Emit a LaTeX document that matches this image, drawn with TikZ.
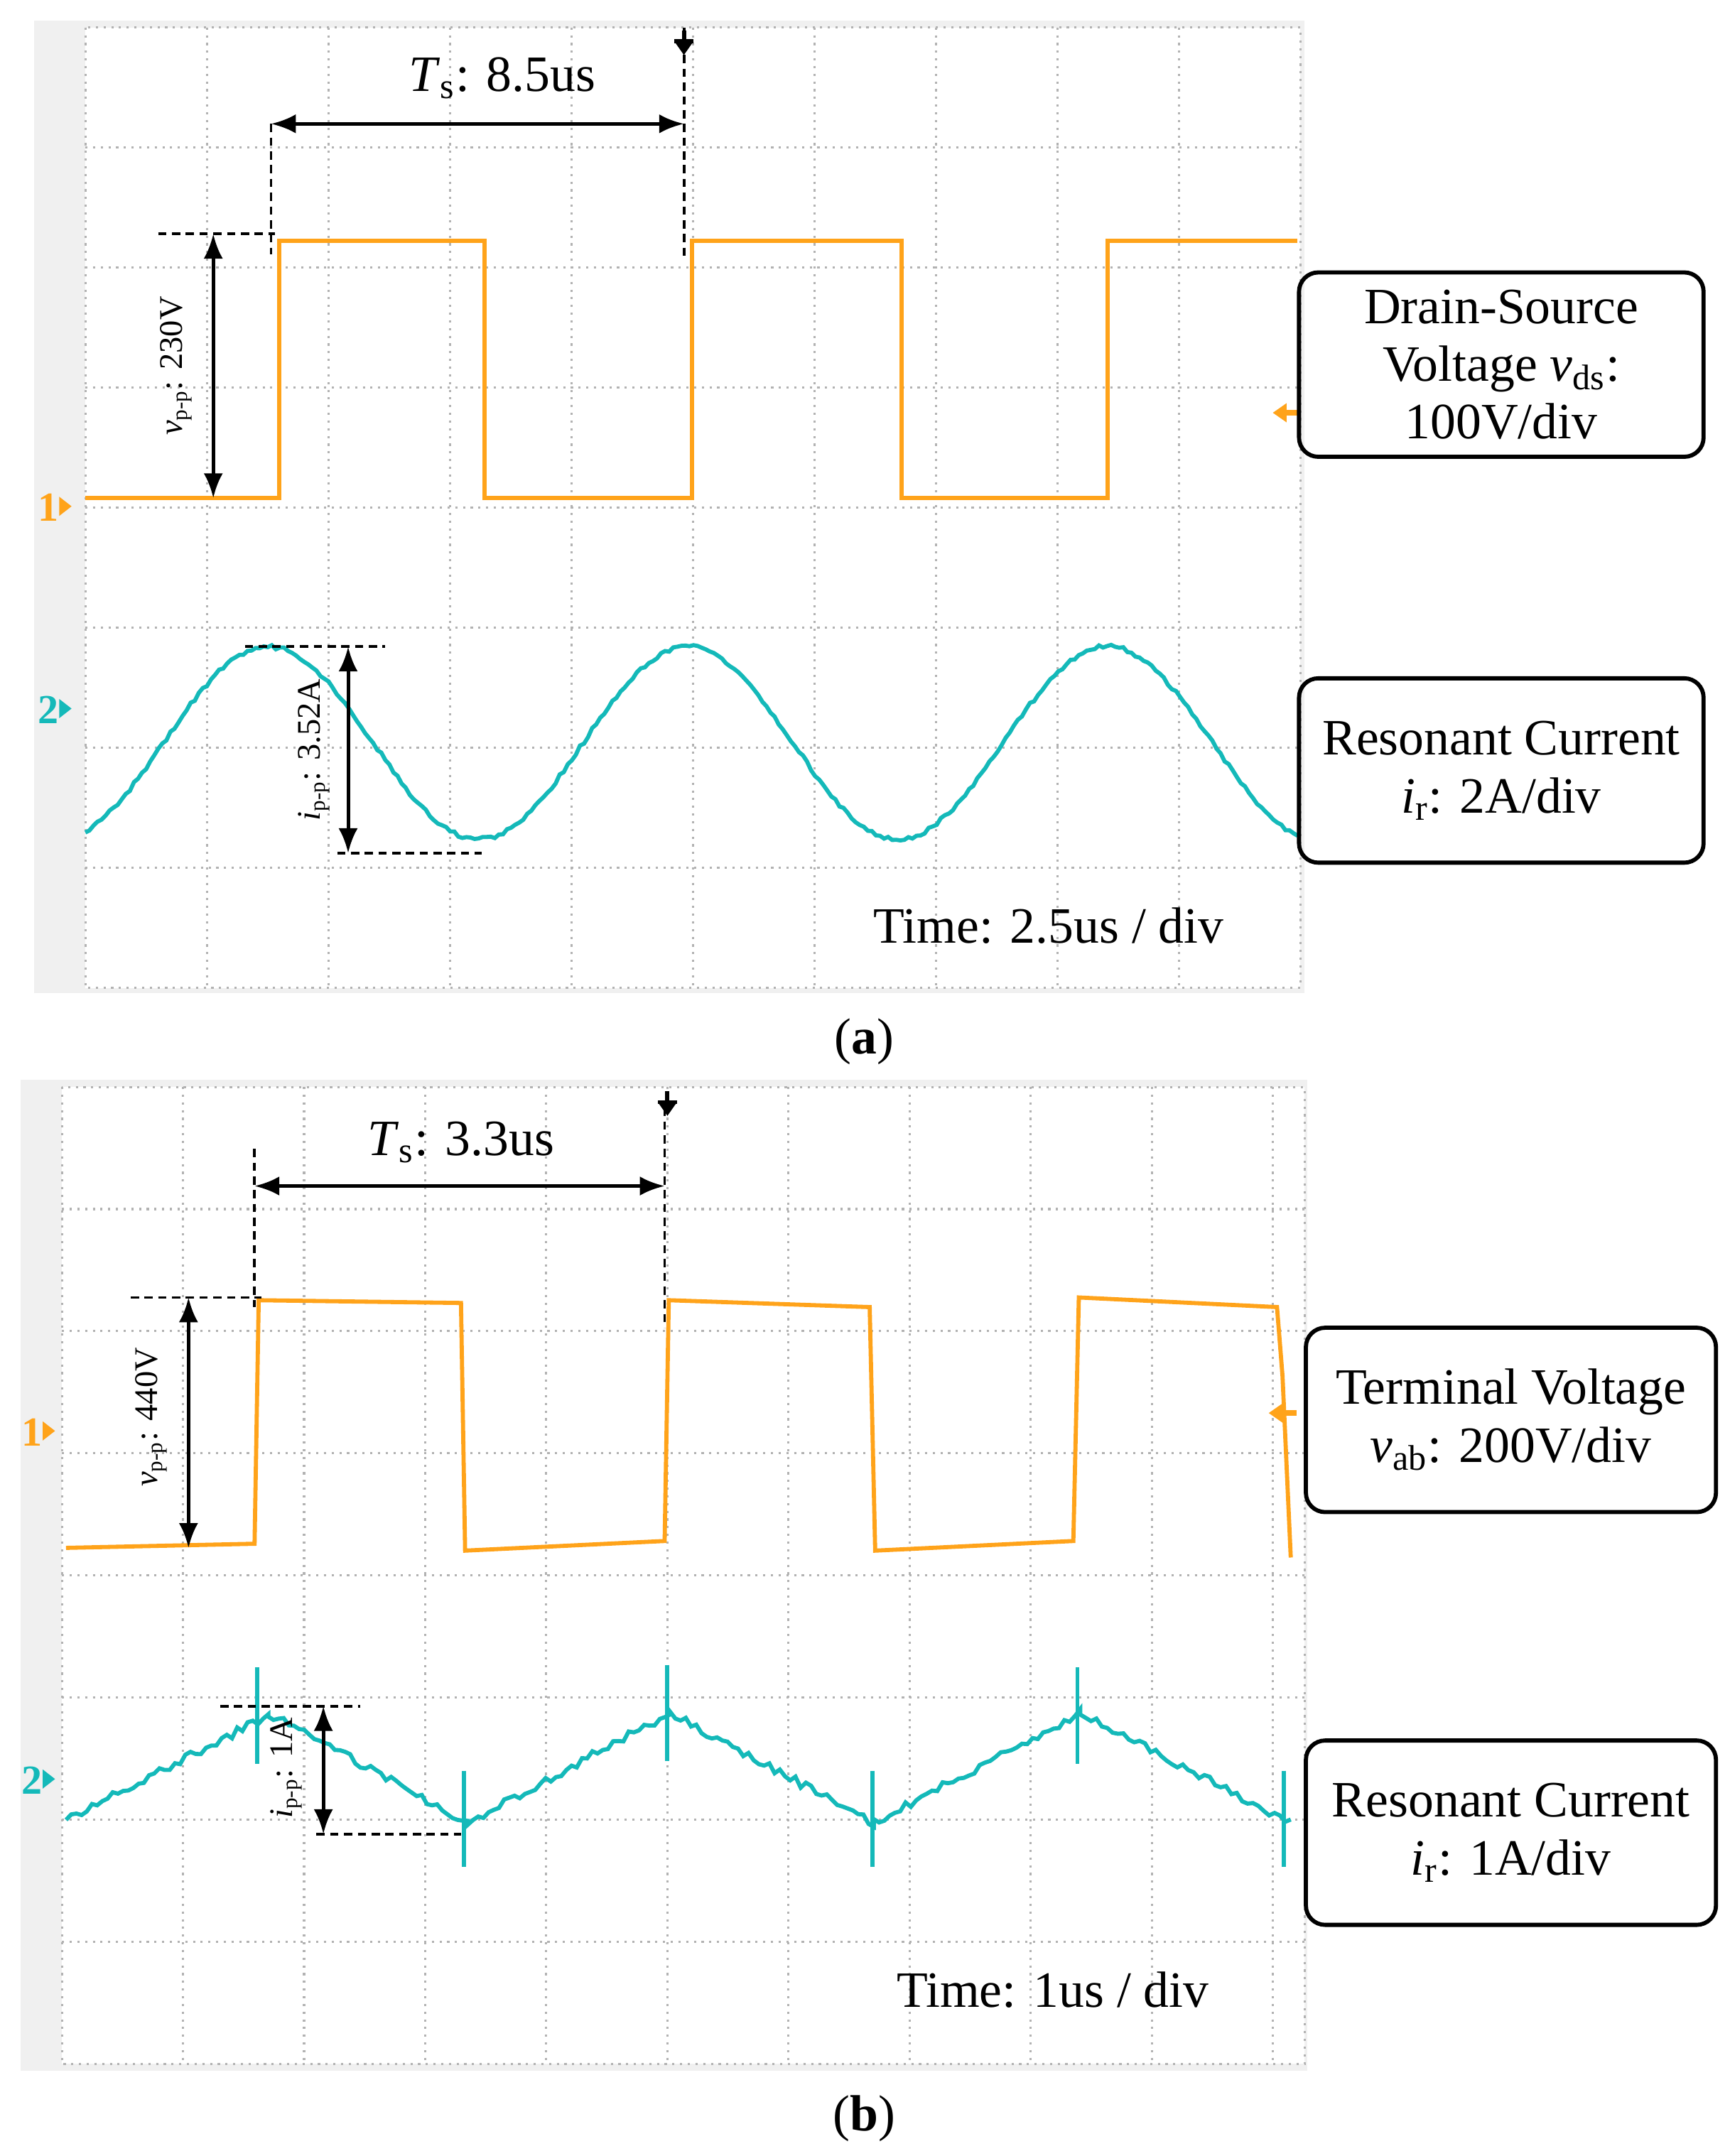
\documentclass[tikz,border=0pt]{standalone}
\usepackage{fontspec}
\setmainfont{Liberation Serif}
\usetikzlibrary{arrows.meta}
\definecolor{orng}{RGB}{255,163,26}
\definecolor{cyn}{RGB}{20,185,185}
\begin{document}
\begin{tikzpicture}[x=0.5pt,y=-0.5pt,
  grid/.style={gray!60,dotted,line width=0.8pt},
  wave/.style={line width=1.5pt},
  guide/.style={densely dashed,line width=1pt},
  dim/.style={{Latex[length=9pt,width=7pt]}-{Latex[length=9pt,width=7pt]},line width=1.3pt},
  box/.style={draw,rounded corners=7pt,line width=1.5pt,align=center,font=\fontsize{18.5}{21}\selectfont,inner sep=0pt,minimum width=147pt,minimum height=67pt},
  lab/.style={font=\fontsize{18.5}{21}\selectfont},
  rlab/.style={font=\fontsize{12}{14}\selectfont,rotate=90},
  mk/.style={font=\bfseries\fontsize{15}{17}\selectfont}]
\useasboundingbox (0,0) rectangle (1257,1567);
\fill[white] (0,0) rectangle (1257,1567);
% ---------- panel a ----------
\fill[gray!12] (25,15) rectangle (948,722);
\fill[white] (62,20) rectangle (945,718);
\foreach \i in {1,...,9} \draw[grid] ({62+\i*88.3},20) -- ({62+\i*88.3},718);
\foreach \j in {1,...,7} \draw[grid] (62,{20+\j*87.25}) -- (945,{20+\j*87.25});
\draw[grid] (62,20) rectangle (945,718);
\draw[orng,wave] (62,362) -- (203,362) -- (203,175) -- (352,175) -- (352,362) -- (503,362) -- (503,175) -- (655,175) -- (655,362) -- (805,362) -- (805,175) -- (943,175);
\pgfmathsetseed{3}
\draw[cyn,wave] plot[domain=62:943,samples=300] (\x,{540-70*cos((\x-195)/305*360)+1.5*rand});
\draw[guide] (197,90) -- (197,185);
\draw[guide] (497,20) -- (497,187);
\coordinate (a1) at (197,90); \coordinate (a2) at (497,90);
\draw[dim] (a1) -- (a2);
\node[lab] (ta) at (365,57) {\textit{T}\textsubscript{s}: 8.5us};
\draw[guide] (115,170) -- (200,170);
\coordinate (b1) at (155,170); \coordinate (b2) at (155,362);
\draw[dim] (b1) -- (b2);
\node[rlab] (va) at (128,266) {\textit{v}\textsubscript{p-p}: 230V};
\draw[guide] (178,470) -- (280,470);
\draw[guide] (245,620) -- (350,620);
\coordinate (c1) at (253,470); \coordinate (c2) at (253,620);
\draw[dim] (c1) -- (c2);
\node[rlab] (ia) at (228,545) {\textit{i}\textsubscript{p-p}: 3.52A};
\node[mk,text=orng] (m1a) at (35,369) {1};
\fill[orng] (43,361) -- (52,368) -- (43,375) -- cycle;
\node[mk,text=cyn] (m2a) at (35,516) {2};
\fill[cyn] (43,508) -- (52,515) -- (43,522) -- cycle;
\fill (497,40) -- (490,30) -- (504,30) -- cycle; \draw[line width=1.5pt] (497,22)--(497,36) (490,30)--(504,30);
\fill[orng] (925,300) -- (935,293) -- (935,307) -- cycle; \draw[orng,line width=2pt] (930,300)--(943,300);
\node[box] (ba) at (1091,265) {Drain-Source\\Voltage \textit{v}\textsubscript{ds}:\\100V/div};
\node[box] (ra) at (1091,560) {Resonant Current\\\textit{i}\textsubscript{r}: 2A/div};
\node[lab] (tma) at (762,673) {Time: 2.5us / div};
\node[lab] (capa) at (628,757) {(\textbf{a})};
% ---------- panel b ----------
\fill[gray!12] (15,785) rectangle (950,1505);
\fill[white] (45,790) rectangle (948,1500);
\foreach \i in {1,...,10} \draw[grid] ({45+\i*88},790) -- ({45+\i*88},1500);
\foreach \j in {1,...,7} \draw[grid] (45,{790+\j*88.75}) -- (948,{790+\j*88.75});
\draw[grid] (45,790) rectangle (948,1500);
\draw[orng,wave] (48,1125) -- (185,1122) -- (188,945) -- (335,947) -- (338,1127) -- (483,1120) -- (486,945) -- (632,950) -- (636,1127) -- (780,1120) -- (784,943) -- (928,950) -- (932,1000) -- (938,1132);
\pgfmathsetseed{7}
\draw[cyn,wave] plot[domain=48:195,samples=40] (\x,{1322-(\x-48)/147*75+3*rand})
 -- plot[domain=195:340,samples=40] (\x,{1245+(\x-195)/145*80+3*rand})
 -- plot[domain=340:487,samples=40] (\x,{1325-(\x-340)/147*80+3*rand})
 -- plot[domain=487:635,samples=40] (\x,{1245+(\x-487)/148*80+3*rand})
 -- plot[domain=635:785,samples=40] (\x,{1325-(\x-635)/150*80+3*rand})
 -- plot[domain=785:938,samples=40] (\x,{1245+(\x-785)/153*80+3*rand});
\foreach \xx/\yy in {187/1247,337/1322,485/1245,634/1322,783/1247,933/1322}
  \draw[cyn,line width=1.5pt] (\xx,\yy-35) -- (\xx,\yy+35);
\draw[guide] (185,835) -- (185,950);
\draw[guide] (483,805) -- (483,965);
\coordinate (d1) at (185,862); \coordinate (d2) at (483,862);
\draw[dim] (d1) -- (d2);
\node[lab] (tb) at (335,830) {\textit{T}\textsubscript{s}: 3.3us};
\draw[guide] (95,943) -- (190,943);
\coordinate (e1) at (137,943); \coordinate (e2) at (137,1125);
\draw[dim] (e1) -- (e2);
\node[rlab] (vb) at (110,1030) {\textit{v}\textsubscript{p-p}: 440V};
\draw[guide] (160,1240) -- (262,1240);
\draw[guide] (230,1333) -- (335,1333);
\coordinate (f1) at (235,1240); \coordinate (f2) at (235,1333);
\draw[dim] (f1) -- (f2);
\node[rlab] (ib) at (208,1285) {\textit{i}\textsubscript{p-p}: 1A};
\node[mk,text=orng] (m1b) at (23,1041) {1};
\fill[orng] (31,1033) -- (40,1040) -- (31,1047) -- cycle;
\node[mk,text=cyn] (m2b) at (23,1294) {2};
\fill[cyn] (31,1286) -- (40,1293) -- (31,1300) -- cycle;
\fill (485,811) -- (478,801) -- (492,801) -- cycle; \draw[line width=1.5pt] (485,793)--(485,807) (478,801)--(492,801);
\fill[orng] (922,1027) -- (932,1020) -- (932,1034) -- cycle; \draw[orng,line width=2pt] (927,1027)--(942,1027);
\node[box,minimum width=149pt] (bb) at (1098,1032) {Terminal Voltage\\\textit{v}\textsubscript{ab}: 200V/div};
\node[box,minimum width=149pt] (rb) at (1098,1332) {Resonant Current\\\textit{i}\textsubscript{r}: 1A/div};
\node[lab] (tmb) at (765,1446) {Time: 1us / div};
\node[lab] (capb) at (628,1540) {(\textbf{b})};
\end{tikzpicture}
\end{document}
